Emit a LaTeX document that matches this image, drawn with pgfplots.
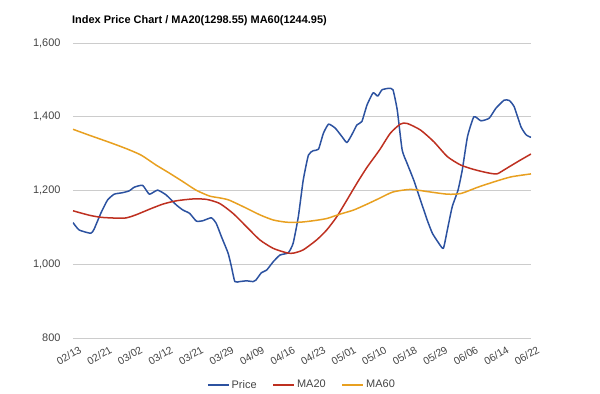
\documentclass[border=0pt]{standalone}
\usepackage{pgfplots}
\pgfplotsset{compat=1.18}
\usepackage{fontspec}
\setmainfont{Liberation Sans}
\definecolor{cPrice}{HTML}{2C52A0}
\definecolor{cMA20}{HTML}{BE3020}
\definecolor{cMA60}{HTML}{E8A020}
\definecolor{cGrid}{HTML}{CCCCCC}
\definecolor{cTxt}{HTML}{444444}
\begin{document}
\begin{tikzpicture}
\begin{axis}[
  at={(0,0)}, anchor=south west,
  scale only axis, width=458bp, height=295bp,
  xmin=0, xmax=150, ymin=800, ymax=1600,
  xtick={0,10,...,150},
  xticklabels={02/13,02/21,03/02,03/12,03/21,03/29,04/09,04/16,04/23,05/01,05/10,05/18,05/29,06/06,06/14,06/22},
  ytick={800,1000,...,1600},
  /pgf/number format/.cd, 1000 sep={,}, assume math mode=true,
  /pgfplots/.cd,
  ymajorgrids, grid style={cGrid, line width=0.8bp},
  axis line style={draw=none},
  major tick style={draw=none},
  tick label style={font=\fontsize{11}{13}\selectfont, text=cTxt},
  yticklabel style={xshift=-9bp},
  xticklabel style={rotate=30, anchor=north east, inner sep=0pt, font=\fontsize{10.5}{12}\selectfont, xshift=1bp, yshift=-9bp},
  legend columns=3,
  legend style={at={(0.5,-0.159)}, anchor=center, draw=none, fill=none,
    font=\fontsize{11}{13}\selectfont, text=cTxt,
    /tikz/every even column/.append style={column sep=14bp}},
  legend image code/.code={\draw[#1] (0bp,0bp) -- (21bp,0bp);},
  every axis plot/.append style={line width=1.5bp, line join=round},
]
\addplot[cPrice, smooth, tension=0.3] coordinates {
(0,1113) (2.0,1093) (5.8,1084) (6.9,1095) (9.1,1138) (11.3,1174) (13.5,1190)
(16.2,1194) (18.4,1199) (20.1,1209) (22.8,1214) (25.0,1190) (27.7,1201)
(30.5,1188) (33.8,1161) (36.0,1147) (38.2,1138) (40.4,1117) (42.5,1118)
(45.3,1126) (46.9,1111) (48.6,1075) (50.8,1030) (51.9,993) (53.0,953)
(54.6,953) (56.8,955) (59.0,953) (59.9,957) (61.7,977) (63.4,984) (65.6,1007)
(67.8,1025) (70.5,1031) (72.1,1057) (73.8,1129) (75.4,1228) (77.1,1296)
(78.7,1308) (80.4,1312) (82.0,1355) (83.7,1380) (85.9,1369) (88.1,1346)
(89.7,1330) (91.3,1351) (93.0,1378) (94.6,1387) (96.3,1432) (98.3,1465)
(99.8,1456) (101.2,1473) (103.4,1477) (104.8,1473) (106.2,1418) (107.8,1310)
(109.4,1274) (111.6,1228) (113.8,1174) (116.0,1120) (117.7,1084) (119.8,1057)
(121.3,1043) (122.6,1093) (124.2,1156) (126.1,1201) (127.5,1256) (129.2,1346)
(131.3,1400) (133.6,1389) (136.3,1396) (138.5,1423) (141.2,1445) (142.9,1444)
(144.5,1427) (146.7,1373) (148.4,1351) (150,1344)
};
\addlegendentry{Price}
\addplot[cMA20, smooth, tension=0.4] coordinates {
(0,1145) (5.3,1133) (9.6,1127) (16.8,1125) (20.6,1134) (25.0,1149) (29.4,1163)
(33.8,1172) (39.2,1177) (43.7,1176) (48.0,1165) (52.4,1138) (56.8,1102)
(61.2,1066) (65.6,1043) (70.0,1031) (72.1,1030) (75.4,1039) (79.8,1066)
(83.1,1093) (86.4,1129) (89.7,1174) (93.0,1220) (96.3,1263) (100.4,1310)
(103.9,1355) (107.2,1380) (109.4,1382) (113.8,1364) (118.2,1332) (122.6,1292)
(127.0,1269) (131.3,1257) (135.8,1248) (138.8,1245) (141.2,1256) (145.6,1278)
(150,1299)
};
\addlegendentry{MA20}
\addplot[cMA60, smooth, tension=0.4] coordinates {
(0,1366) (5.3,1350) (11.8,1331) (17.3,1314) (22.3,1296) (27.2,1269) (31.6,1247)
(36.0,1224) (40.3,1201) (44.7,1185) (48.0,1180) (51.1,1174) (56.8,1152)
(61.2,1134) (65.6,1120) (70.0,1114) (74.3,1114) (78.7,1118) (83.1,1124)
(87.5,1136) (91.9,1147) (96.3,1163) (100.4,1179) (104.8,1196) (110.6,1203)
(116.1,1197) (122.7,1190) (127.1,1192) (132.6,1209) (138.1,1224) (143.5,1237)
(150,1245)
};
\addlegendentry{MA60}
\end{axis}
\node[anchor=base west, inner sep=0pt, font=\bfseries\fontsize{11}{13}\selectfont] at (-1bp,314bp) {Index Price Chart / MA20(1298.55) MA60(1244.95)};
\useasboundingbox (-73bp,-56bp) rectangle (527bp,338bp);
\end{tikzpicture}
\end{document}
